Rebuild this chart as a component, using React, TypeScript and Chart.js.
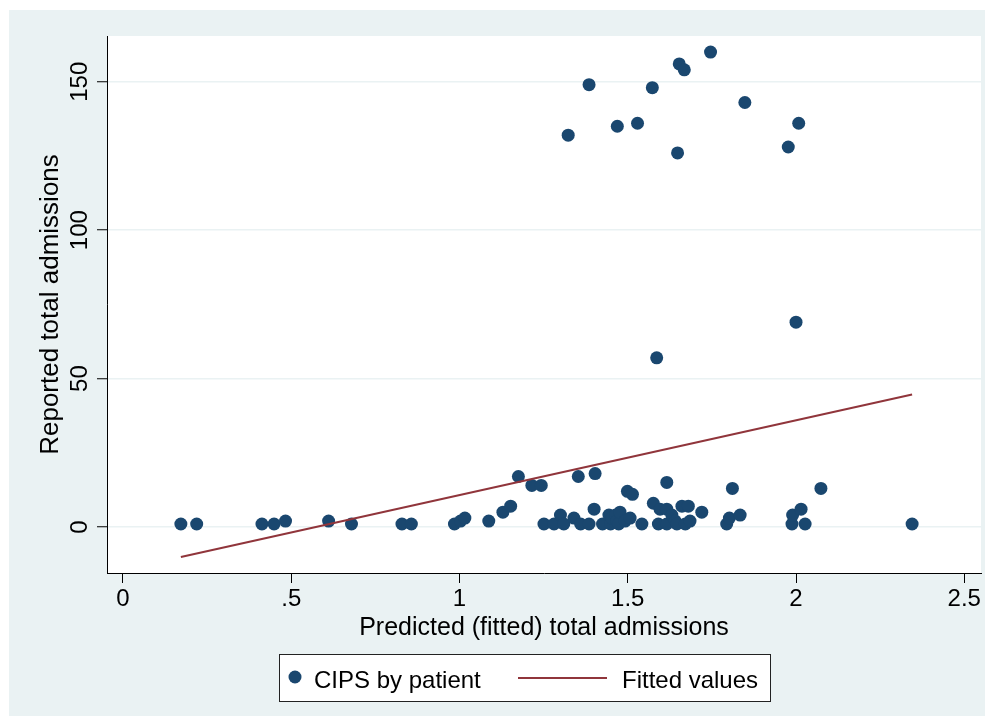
import { useEffect, useRef } from "react";
import { Chart, registerables } from "chart.js";

Chart.register(...registerables);

// Predicted (fitted) total admissions for each patient
const PREDICTED = [
  0.172, 0.219, 0.413, 0.449, 0.483, 0.611, 0.679, 0.829, 0.857, 0.985,
  1.003, 1.016, 1.087, 1.129, 1.152, 1.175, 1.215, 1.243, 1.251, 1.281,
  1.300, 1.310, 1.340, 1.353, 1.360, 1.385, 1.400, 1.403, 1.425, 1.444,
  1.449, 1.453, 1.464, 1.468, 1.473, 1.477, 1.492, 1.499, 1.507, 1.514,
  1.542, 1.576, 1.586, 1.591, 1.596, 1.616, 1.616, 1.616, 1.631, 1.641,
  1.646, 1.661, 1.671, 1.680, 1.685, 1.720, 1.794, 1.802, 1.811, 1.834,
  1.988, 1.990, 2.000, 2.015, 2.027, 2.074, 2.345,
  1.323, 1.385, 1.469, 1.529, 1.573, 1.648, 1.653, 1.668, 1.746, 1.848,
  1.977, 2.008,
];

// Reported total admissions for the same patients
const REPORTED = [
  1, 1, 1, 1, 2, 2, 1, 1, 1, 1,
  2, 3, 2, 5, 7, 17, 14, 14, 1, 1,
  4, 1, 3, 17, 1, 1, 6, 18, 1, 4,
  1, 3, 4, 2, 1, 5, 2, 12, 3, 11,
  1, 8, 57, 1, 6, 1, 6, 15, 4, 2,
  1, 7, 1, 7, 2, 5, 1, 3, 13, 4,
  1, 4, 69, 6, 1, 13, 1,
  132, 149, 135, 136, 148, 126, 156, 154, 160, 143,
  128, 136,
];

// Linear fit, evaluated at the ends of the predicted range
const FIT_X = [0.172, 2.345];
const FIT_Y = [-10.1, 44.6];

const X_TICKS = [0, 0.5, 1, 1.5, 2, 2.5];
const X_TICK_LABELS = ["0", ".5", "1", "1.5", "2", "2.5"];
const Y_TICKS = [0, 50, 100, 150];
const Y_TICK_LABELS = ["0", "50", "100", "150"];

const X_TITLE = "Predicted (fitted) total admissions";
const Y_TITLE = "Reported total admissions";
const SCATTER_LABEL = "CIPS by patient";
const FIT_LABEL = "Fitted values";

const NAVY = "#1a476f";
const MAROON = "#90353b";
const REGION = "#eaf2f3";
const FONT = "'Liberation Sans', Arial, Helvetica, sans-serif";

const W = 994;
const H = 726;

const backdrop = {
  id: "backdrop",
  beforeDraw(chart: any) {
    const { ctx, chartArea: a } = chart;
    ctx.save();
    ctx.fillStyle = "#ffffff";
    ctx.fillRect(0, 0, chart.width, chart.height);
    ctx.fillStyle = REGION;
    ctx.fillRect(9, 10, 976, 706);
    ctx.fillStyle = "#ffffff";
    ctx.fillRect(a.left, a.top, a.right - a.left, a.bottom - a.top);
    ctx.restore();
  },
};

// Boxed legend under the x-axis title, one row
const boxedLegend = {
  id: "boxedLegend",
  afterDraw(chart: any) {
    const { ctx } = chart;
    const ds = chart.data.datasets;
    const box = { x: 279.5, y: 654.5, w: 491, h: 47 };
    const cy = box.y + box.h / 2;
    ctx.save();
    ctx.fillStyle = "#ffffff";
    ctx.fillRect(box.x, box.y, box.w, box.h);
    ctx.strokeStyle = "#222222";
    ctx.lineWidth = 1;
    ctx.strokeRect(box.x, box.y, box.w, box.h);

    ctx.font = `24px ${FONT}`;
    ctx.textBaseline = "middle";
    ctx.textAlign = "left";

    // scatter key
    ctx.fillStyle = ds[0].backgroundColor;
    ctx.beginPath();
    ctx.arc(295, cy - 1, 6.5, 0, Math.PI * 2);
    ctx.fill();
    ctx.fillStyle = "#000000";
    ctx.fillText(ds[0].label, 314, cy + 3);

    // fitted line key
    ctx.strokeStyle = ds[1].borderColor;
    ctx.lineWidth = 2;
    ctx.beginPath();
    ctx.moveTo(518, cy);
    ctx.lineTo(607, cy);
    ctx.stroke();
    ctx.fillStyle = "#000000";
    ctx.fillText(ds[1].label, 622, cy + 3);
    ctx.restore();
  },
};

export default function App() {
  const ref = useRef<HTMLCanvasElement | null>(null);

  useEffect(() => {
    const canvas = ref.current;
    if (!canvas) return;

    const points = PREDICTED.map((x, i) => ({ x, y: REPORTED[i] }));
    const fit = FIT_X.map((x, i) => ({ x, y: FIT_Y[i] }));

    const chart = new Chart(canvas, {
      type: "scatter",
      data: {
        datasets: [
          {
            type: "scatter",
            label: SCATTER_LABEL,
            data: points,
            backgroundColor: NAVY,
            borderColor: NAVY,
            borderWidth: 0,
            pointRadius: 6.5,
            pointHoverRadius: 6.5,
            order: 1,
          },
          {
            type: "line",
            label: FIT_LABEL,
            data: fit,
            borderColor: MAROON,
            backgroundColor: MAROON,
            borderWidth: 2,
            pointRadius: 0,
            fill: false,
            tension: 0,
            order: 0,
          },
        ],
      } as any,
      options: {
        animation: false,
        responsive: false,
        events: [],
        layout: { padding: { left: 0, top: 36, right: 13, bottom: 0 } },
        plugins: {
          legend: { display: false },
          tooltip: { enabled: false },
        },
        scales: {
          x: {
            type: "linear",
            position: "bottom",
            min: -0.0475,
            max: 2.5497,
            afterBuildTicks: (s: any) => {
              s.ticks = X_TICKS.map((value) => ({ value }));
            },
            afterFit: (s: any) => {
              s.height = 153;
            },
            ticks: {
              autoSkip: false,
              maxRotation: 0,
              minRotation: 0,
              padding: 2,
              color: "#000000",
              font: { family: FONT, size: 24 },
              callback: (v: any) => {
                const i = X_TICKS.indexOf(Number(v));
                return i >= 0 ? X_TICK_LABELS[i] : "";
              },
            },
            grid: {
              drawOnChartArea: false,
              drawTicks: true,
              tickLength: 10,
              tickColor: "#000000",
              tickWidth: 1,
            },
            border: { display: true, color: "#000000", width: 1 },
            title: {
              display: true,
              text: X_TITLE,
              color: "#000000",
              font: { family: FONT, size: 25 },
              padding: { top: 0, bottom: 83 },
            },
          },
          y: {
            type: "linear",
            position: "left",
            min: -15.5,
            max: 165.4,
            afterBuildTicks: (s: any) => {
              s.ticks = Y_TICKS.map((value) => ({ value }));
            },
            afterFit: (s: any) => {
              s.width = 107;
            },
            ticks: {
              autoSkip: false,
              minRotation: 90,
              maxRotation: 90,
              crossAlign: "center",
              padding: -3,
              color: "#000000",
              font: { family: FONT, size: 24 },
              callback: (v: any) => {
                const i = Y_TICKS.indexOf(Number(v));
                return i >= 0 ? Y_TICK_LABELS[i] : "";
              },
            },
            grid: {
              drawOnChartArea: true,
              drawTicks: true,
              color: REGION,
              lineWidth: 1.5,
              tickLength: 10,
              tickColor: "#000000",
              tickWidth: 1,
            },
            border: { display: true, color: "#000000", width: 1 },
            title: {
              display: true,
              text: Y_TITLE,
              color: "#000000",
              font: { family: FONT, size: 26 },
              padding: { top: 35, bottom: 0 },
            },
          },
        },
      } as any,
      plugins: [backdrop, boxedLegend],
    });

    return () => chart.destroy();
  }, []);

  return (
    <div style={{ position: "absolute", left: 0, top: 0, width: W, height: H }}>
      <canvas ref={ref} width={W} height={H} style={{ display: "block", width: W, height: H }} />
    </div>
  );
}
